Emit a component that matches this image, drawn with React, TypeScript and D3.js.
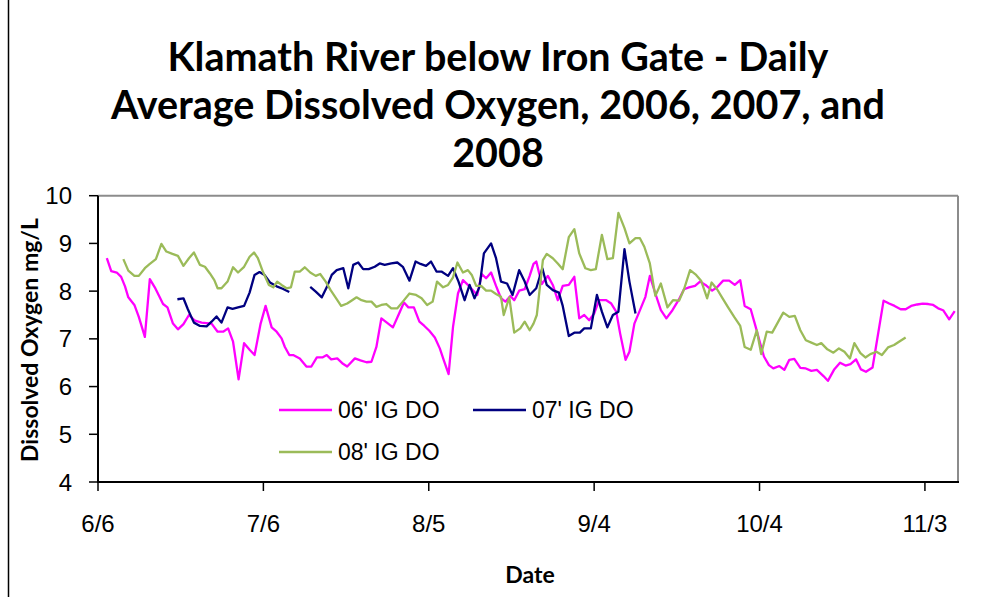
import React from "react";
import * as d3 from "d3";

// Day offsets from 6/6 and daily average DO (mg/L)
const pinkDays = [1.6,2.4,3.4,4.2,4.9,5.5,6.6,7.4,8.5,9.4,10.3,11.2,11.8,12.6,13.6,14.5,15.5,16.5,17.6,18.8,20.6,21.7,22.7,23.6,24.5,25.5,26.5,27.5,28.4,29.5,30.4,31.5,32.4,33.3,33.9,34.7,35.4,36.6,37.8,38.7,39.7,40.7,41.5,42.3,43.4,44.3,45.2,46.6,47.6,48.7,49.6,50.5,51.4,52.4,53.5,54.5,55.5,56.3,57.3,58.3,59.2,60.1,61.1,62.0,62.7,63.6,64.4,65.3,66.2,67.1,68.0,68.8,69.6,70.4,71.3,72.2,73.1,73.9,74.8,75.5,76.4,77.4,78.3,79.0,79.5,80.5,81.6,82.5,83.4,84.3,85.4,86.4,87.3,88.2,89.1,90.0,90.9,92.2,93.1,94.0,94.7,95.7,96.4,97.3,98.2,99.3,100.1,101.1,102.1,103.1,104.2,105.3,106.3,107.2,108.3,109.2,110.2,111.4,112.3,113.4,114.5,115.5,116.5,117.3,118.4,119.3,120.1,120.8,121.7,122.5,123.6,124.5,125.4,126.3,127.4,128.4,129.4,130.4,131.6,132.4,133.5,134.6,135.6,136.5,137.5,138.4,139.3,140.5,142.5,143.5,144.5,145.6,146.5,147.5,148.6,149.6,150.6,151.5,152.4,153.3,154.4,155.4];
const pinkValues = [8.69,8.42,8.39,8.30,8.10,7.87,7.71,7.46,7.04,8.25,8.08,7.87,7.73,7.66,7.32,7.20,7.31,7.50,7.38,7.34,7.32,7.15,7.15,7.22,6.94,6.15,6.91,6.77,6.66,7.32,7.69,7.24,7.15,7.01,6.83,6.66,6.66,6.59,6.42,6.42,6.61,6.61,6.66,6.57,6.59,6.49,6.42,6.59,6.55,6.51,6.52,6.83,7.43,7.34,7.24,7.50,7.76,7.66,7.66,7.36,7.27,7.17,7.03,6.80,6.56,6.26,7.25,7.95,8.23,8.13,8.02,7.92,8.36,8.27,8.39,8.11,7.85,7.78,7.90,7.81,8.01,8.04,8.32,8.57,8.62,8.15,8.32,8.13,7.81,8.11,8.13,8.30,7.43,7.50,7.39,7.53,7.81,7.81,7.74,7.57,7.12,6.56,6.73,7.32,7.57,7.88,8.32,7.95,7.60,7.43,7.60,7.81,8.04,8.08,8.11,8.20,8.13,8.01,8.08,8.22,8.22,8.13,8.23,7.69,7.62,7.25,6.91,6.63,6.45,6.38,6.43,6.35,6.56,6.58,6.39,6.38,6.33,6.35,6.22,6.12,6.35,6.50,6.44,6.47,6.57,6.36,6.31,6.40,7.80,7.74,7.69,7.62,7.62,7.69,7.72,7.74,7.73,7.71,7.64,7.60,7.41,7.58];

const blueDaysA = [14.4,15.5,16.3,17.4,18.5,19.7,20.6,21.5,22.4,23.5,24.4,25.4,26.5,27.5,28.4,29.3,30.2,31.2,32.4,33.5,34.7];
const blueValuesA = [7.83,7.85,7.62,7.34,7.27,7.26,7.36,7.47,7.34,7.66,7.63,7.66,7.69,7.97,8.34,8.40,8.34,8.18,8.10,8.05,7.98];
const blueDaysB = [38.5,39.5,40.6,41.6,42.4,43.3,44.5,45.4,46.3,47.2,48.1,49.1,50.2,51.1,52.0,53.2,54.3,55.3,56.5,57.6,58.5,59.5,60.4,61.4,62.3,63.5,64.4,65.4,66.5,67.4,68.3,69.2,70.0,71.3,72.2,73.1,74.2,75.2,76.4,77.4,78.3,79.5,80.6,81.4,82.5,83.6,84.3,85.4,86.4,87.4,88.2,89.4,90.5,91.4,92.4,93.4,94.4,95.5,96.4,97.5];
const blueValuesB = [8.09,7.99,7.87,8.11,8.34,8.44,8.48,8.06,8.55,8.60,8.46,8.46,8.51,8.58,8.55,8.58,8.60,8.51,8.22,8.62,8.57,8.53,8.62,8.41,8.41,8.32,8.48,8.20,7.81,8.13,7.85,8.09,8.79,9.00,8.69,8.20,8.16,7.92,8.44,8.20,7.92,8.06,8.48,8.13,8.02,7.97,7.69,7.06,7.13,7.13,7.22,7.22,7.92,7.57,7.24,7.50,7.57,8.88,8.20,7.53];

const greenDays = [4.6,5.5,6.6,7.4,8.5,9.4,10.5,11.5,12.4,13.5,14.5,15.5,16.5,17.4,18.5,19.4,20.3,21.1,21.7,22.4,23.5,24.5,25.4,26.5,27.5,28.3,29.0,29.9,31.0,31.8,32.5,33.3,34.2,35.0,35.7,36.6,37.5,38.5,39.5,40.3,41.3,42.2,43.2,44.1,45.2,46.1,46.9,47.8,48.7,49.6,50.5,51.4,52.3,53.2,54.3,55.3,56.5,57.7,58.7,59.7,60.7,61.5,62.6,63.5,64.4,65.2,66.2,67.1,67.8,68.6,69.5,70.4,71.3,72.2,73.1,73.6,74.6,75.5,76.6,77.4,78.3,79.0,79.6,80.7,81.4,82.5,83.4,84.3,85.4,86.4,87.3,88.4,89.4,90.3,91.4,92.4,93.4,94.4,95.5,96.4,97.5,98.3,99.1,100.1,101.1,102.1,103.3,104.3,105.4,106.3,107.4,108.5,109.4,110.5,111.3,112.3,113.3,114.3,115.4,116.5,117.3,118.4,119.5,120.3,121.3,122.3,123.4,124.3,125.4,126.4,127.4,128.4,129.4,130.4,131.2,132.3,133.4,134.4,135.4,136.4,137.2,138.3,139.2,140.1,141.2,142.2,143.3,144.4,145.3,146.5];
const greenValues = [8.67,8.43,8.32,8.32,8.48,8.57,8.67,8.99,8.83,8.78,8.74,8.53,8.69,8.81,8.55,8.51,8.37,8.23,8.06,8.06,8.20,8.50,8.39,8.51,8.72,8.81,8.69,8.41,8.13,8.08,8.20,8.13,8.06,8.08,8.41,8.41,8.50,8.39,8.32,8.36,8.20,8.02,7.85,7.69,7.74,7.81,7.87,7.81,7.78,7.78,7.67,7.71,7.73,7.64,7.64,7.78,7.95,7.92,7.85,7.71,7.78,8.20,8.08,8.13,8.29,8.60,8.39,8.44,8.34,8.11,8.11,8.01,8.01,7.94,7.88,7.50,7.87,7.13,7.22,7.36,7.18,7.32,7.50,8.65,8.78,8.69,8.58,8.46,9.13,9.30,8.79,8.48,8.44,8.46,9.18,8.67,8.69,9.64,9.32,9.00,9.11,9.11,8.93,8.58,7.90,8.16,7.66,7.81,7.80,8.04,8.44,8.34,8.22,7.85,8.18,8.04,7.85,7.66,7.46,7.27,6.83,6.77,7.18,6.68,7.15,7.13,7.36,7.55,7.46,7.48,7.18,6.97,6.92,6.87,6.91,6.78,6.71,6.80,6.73,6.59,6.91,6.70,6.61,6.68,6.73,6.66,6.82,6.87,6.94,7.03];

const xTickLabels = ["6/6", "7/6", "8/5", "9/4", "10/4", "11/3"];
const yTicks = [4, 5, 6, 7, 8, 9, 10];
const titleLines = [
  "Klamath River below Iron Gate - Daily",
  "Average Dissolved Oxygen, 2006, 2007, and",
  "2008",
];
const legendLabels = ["06' IG DO", "07' IG DO", "08' IG DO"];

const W = 981;
const H = 597;
const M = { left: 98, right: 958, top: 195.7, bottom: 482 };
const start = Date.UTC(2006, 5, 6);
const dayMs = 864e5;
const toDate = (d: number) => new Date(start + d * dayMs);

export default function App() {
  const x = d3
    .scaleUtc()
    .domain([toDate(0), toDate(156)])
    .range([M.left, M.right]);
  const y = d3.scaleLinear().domain([4, 10]).range([M.bottom, M.top]);
  const line = d3
    .line<[number, number]>()
    .x((d) => x(toDate(d[0])))
    .y((d) => y(d[1]));
  const zip = (a: number[], b: number[]) =>
    a.map((d, i) => [d, b[i]] as [number, number]);

  const series = [
    { data: zip(pinkDays, pinkValues), color: "#FF00FF" },
    { data: zip(blueDaysA, blueValuesA), color: "#000080" },
    { data: zip(blueDaysB, blueValuesB), color: "#000080" },
    { data: zip(greenDays, greenValues), color: "#9BBB59" },
  ];
  const xTicks = xTickLabels.map((_, i) => toDate(i * 30));
  const fmt = d3.utcFormat("%-m/%-d");

  const legend = [
    { label: legendLabels[0], color: "#FF00FF", x: 279, y: 410 },
    { label: legendLabels[1], color: "#000080", x: 473, y: 410 },
    { label: legendLabels[2], color: "#9BBB59", x: 279, y: 452 },
  ];

  return (
    <svg
      width={W}
      height={H}
      style={{ position: "absolute", left: 0, top: 0, background: "#fff" }}
    >
      <rect x={0} y={0} width={W} height={H} fill="#fff" />
      <line x1={8.5} y1={0} x2={8.5} y2={H} stroke="#000" strokeWidth={1.5} />
      {titleLines.map((t, i) => (
        <text
          key={i}
          x={498}
          y={71 + i * 48}
          textAnchor="middle"
          fontFamily="Lato, 'Open Sans', sans-serif"
          fontWeight={700}
          fontSize={39.5}
          fill="#000"
        >
          {t}
        </text>
      ))}
      {/* plot frame */}
      <line x1={M.left} y1={M.top} x2={M.right} y2={M.top} stroke="#8c8c8c" strokeWidth={2} />
      <line x1={M.right} y1={M.top} x2={M.right} y2={M.bottom} stroke="#8c8c8c" strokeWidth={2} />
      {/* series */}
      {series.map((s, i) => (
        <path
          key={i}
          d={line(s.data) || ""}
          fill="none"
          stroke={s.color}
          strokeWidth={2.3}
          strokeLinejoin="round"
        />
      ))}
      {/* axes */}
      <line x1={M.left} y1={M.top} x2={M.left} y2={M.bottom + 1} stroke="#000" strokeWidth={2} />
      <line x1={M.left - 1} y1={M.bottom} x2={M.right + 1} y2={M.bottom} stroke="#000" strokeWidth={2} />
      {yTicks.map((t) => (
        <g key={t}>
          <line x1={M.left - 9} x2={M.left} y1={y(t)} y2={y(t)} stroke="#000" strokeWidth={1.5} />
          <text
            x={72}
            y={y(t) + 8.5}
            textAnchor="end"
            fontFamily="'Liberation Sans', Arial, sans-serif"
            fontSize={24}
            fill="#000"
          >
            {t}
          </text>
        </g>
      ))}
      {xTicks.map((t, i) => (
        <g key={i}>
          <line x1={x(t)} x2={x(t)} y1={M.bottom} y2={M.bottom + 9} stroke="#000" strokeWidth={1.5} />
          <text
            x={x(t)}
            y={532}
            textAnchor="middle"
            fontFamily="'Liberation Sans', Arial, sans-serif"
            fontSize={24}
            fill="#000"
          >
            {fmt(t)}
          </text>
        </g>
      ))}
      <text
        x={530}
        y={583}
        textAnchor="middle"
        fontFamily="Lato, 'Open Sans', sans-serif"
        fontWeight={700}
        fontSize={23}
        fill="#000"
      >
        Date
      </text>
      <text
        transform="translate(38,340) rotate(-90)"
        textAnchor="middle"
        fontFamily="Lato, 'Open Sans', sans-serif"
        fontWeight={700}
        fontSize={23}
        fill="#000"
      >
        Dissolved Oxygen mg/L
      </text>
      {legend.map((l, i) => (
        <g key={i}>
          <line x1={l.x} x2={l.x + 53} y1={l.y} y2={l.y} stroke={l.color} strokeWidth={2.3} />
          <text
            x={l.x + 59}
            y={l.y + 8}
            fontFamily="'Liberation Sans', Arial, sans-serif"
            fontSize={23}
            fill="#000"
          >
            {l.label}
          </text>
        </g>
      ))}
    </svg>
  );
}
